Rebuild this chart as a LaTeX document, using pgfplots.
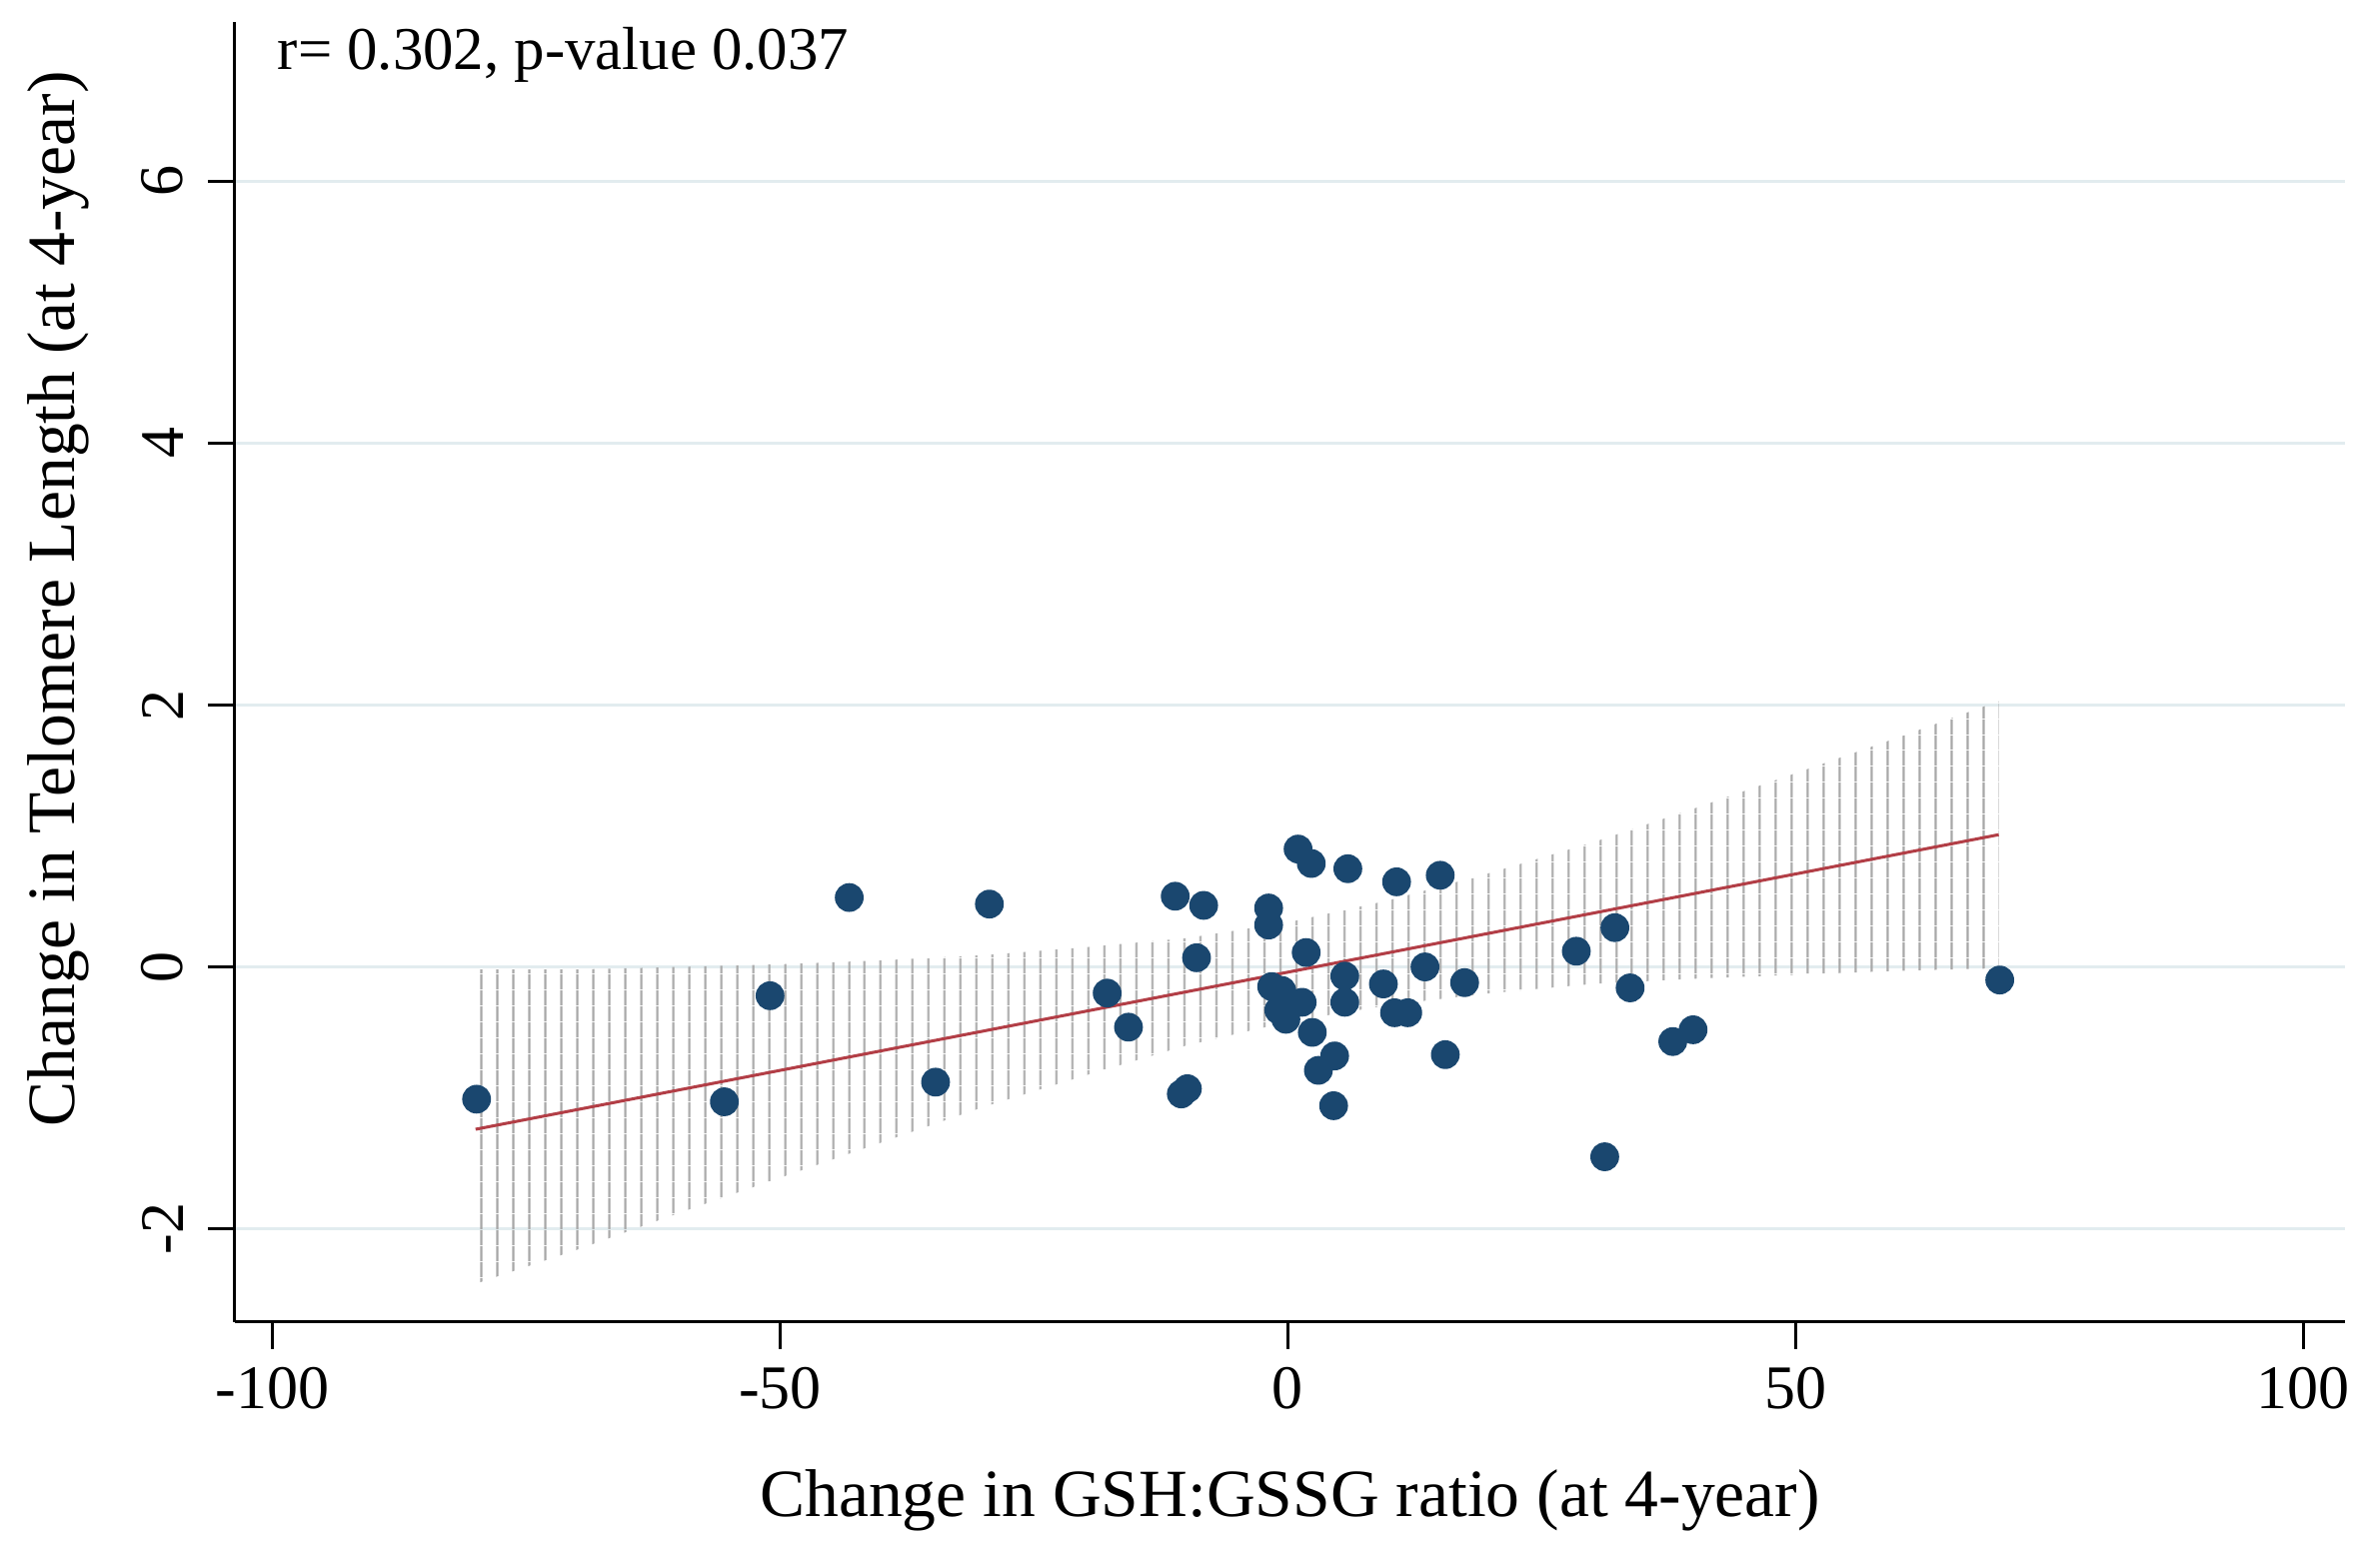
\documentclass[border=0pt]{standalone}
\usepackage{fontspec}
\setmainfont{Liberation Serif}
\usepackage{pgfplots}
\pgfplotsset{compat=1.18}
\usetikzlibrary{patterns.meta}

\definecolor{stnavy}{RGB}{26,71,111}
\definecolor{stmaroon}{RGB}{178,62,70}
\definecolor{stgrid}{RGB}{226,236,239}

\begin{document}
\begin{tikzpicture}
\begin{axis}[
    scale only axis,
    width=527.75pt, height=325.25pt,
    xmin=-103.7, xmax=104.1,
    ymin=-2.71, ymax=7.22,
    axis x line=bottom, axis y line=left,
    axis line style={-, black, line width=0.75pt},
    xtick={-100,-50,0,50,100},
    xticklabels={-100,-50,0,50,100},
    ytick={-2,0,2,4,6},
    yticklabels={-2,0,2,4,6},
    tick align=outside,
    major tick length=6.75pt,
    tick style={black, line width=0.75pt},
    xticklabel shift=4.5pt,
    yticklabel shift=6pt,
    xticklabel style={font=\fontsize{15.5}{18}\selectfont, anchor=north, inner sep=0pt},
    yticklabel style={font=\fontsize{15.5}{18}\selectfont, rotate=90, anchor=south, inner sep=0pt},
    ymajorgrids,
    major grid style={stgrid, line width=0.75pt},
    xlabel={Change in GSH:GSSG ratio (at 4-year)},
    ylabel={Change in Telomere Length (at 4-year)},
    every axis x label/.style={at={(axis description cs:0.5,0)}, anchor=base, yshift=-48.75pt,
        font=\fontsize{16.9}{20}\selectfont},
    every axis y label/.style={at={(axis description cs:-0.0758,0.556)}, rotate=90, anchor=base,
        font=\fontsize{16.9}{20}\selectfont},
    clip=false,
]
% observations
\addplot[only marks, mark=*, mark size=3.4pt, mark options={fill=stnavy, draw=stnavy}]
coordinates {
(-79.9,-1.01) (-55.5,-1.03) (-51.0,-0.22) (-43.2,0.53) (-34.7,-0.88)
(-29.4,0.48) (-17.8,-0.20) (-15.7,-0.46) (-11.1,0.54) (-10.5,-0.97)
(-9.9,-0.93) (-9.0,0.07) (-8.3,0.47) (-1.9,0.45) (-1.9,0.32)
(1.0,0.90) (2.3,0.79) (1.8,0.11) (-1.6,-0.15) (-0.6,-0.18)
(-0.9,-0.33) (-0.2,-0.40) (1.4,-0.27) (2.4,-0.50) (4.6,-0.68)
(3.0,-0.79) (4.5,-1.06) (5.6,-0.07) (5.6,-0.27) (5.9,0.75)
(9.4,-0.13) (10.7,0.65) (10.5,-0.35) (11.8,-0.35) (13.5,0.00)
(15.0,0.70) (15.5,-0.67) (17.4,-0.12) (28.4,0.12) (32.2,0.30)
(31.2,-1.45) (33.7,-0.16) (37.9,-0.57) (39.9,-0.48) (70.1,-0.10)
};
% 95% CI band: upper edge left to right, then lower edge right to left
\addplot[draw=none, pattern={Lines[angle=90, distance=4pt, line width=0.6pt]}, pattern color=black!35]
coordinates {
(-80,-0.02) (-70,-0.02) (-60,0.00) (-50,0.02) (-40,0.05) (-30,0.09)
(-20,0.15) (-10,0.22) (0,0.34) (10,0.51) (20,0.72) (30,0.95)
(40,1.21) (50,1.48) (60,1.75) (70,2.03)
(70,-0.01) (60,-0.03) (50,-0.06) (40,-0.09) (30,-0.13) (20,-0.20)
(10,-0.29) (0,-0.42) (-10,-0.60) (-20,-0.83) (-30,-1.07) (-40,-1.34)
(-50,-1.61) (-60,-1.88) (-70,-2.16) (-80,-2.42)
};
% fitted line
\addplot[stmaroon, line width=0.75pt] coordinates {(-80,-1.24) (70,1.01)};
\node[anchor=base west, inner sep=0pt, font=\fontsize{15.2}{18}\selectfont] at (rel axis cs:0.0199,0.9631) {r= 0.302, p-value 0.037};
\end{axis}
\path ([xshift=-58.75pt,yshift=-58.75pt]current axis.south west) rectangle ([xshift=8.75pt,yshift=5.4pt]current axis.north east);
\end{tikzpicture}
\end{document}
